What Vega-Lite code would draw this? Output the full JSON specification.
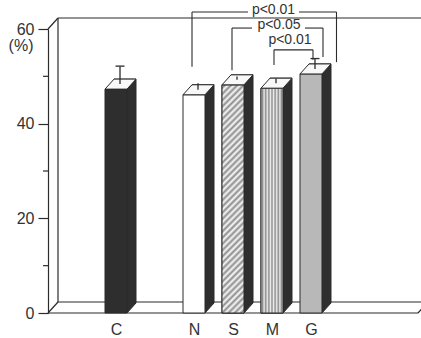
{
  "$schema": "https://vega.github.io/schema/vega-lite/v6.json",
  "width": 370,
  "height": 284,
  "autosize": {"type": "none"},
  "padding": {"left": 48, "top": 29, "right": 3, "bottom": 25},
  "background": "#ffffff",
  "config": {"view": {"stroke": null}, "font": "Liberation Sans"},
  "datasets": {
    "bars": [
      {"group": "C", "pct": 47.3, "upper": 51.1},
      {"group": "N", "pct": 46.1, "upper": 47.5},
      {"group": "S", "pct": 48.2, "upper": 48.9},
      {"group": "M", "pct": 47.5, "upper": 48.5},
      {"group": "G", "pct": 50.5, "upper": 52.7}
    ],
    "frame": [{"left": 0, "right": 1, "floor": 0, "top": 60}],
    "minor": [{"left": 0, "v": 10}, {"left": 0, "v": 30}, {"left": 0, "v": 50}],
    "brackets": [
      {"id": 1, "label": "p<0.01", "from": "N", "to": "G", "mid": "M", "y": 63.6, "yFrom": 52.0, "yTo": 53.0, "ty": 63.2},
      {"id": 2, "label": "p<0.05", "from": "S", "to": "G", "mid": "M", "y": 60.2, "yFrom": 51.3, "yTo": 54.1, "ty": 59.9},
      {"id": 3, "label": "p<0.01", "from": "M", "to": "G", "mid": "M", "y": 55.6, "yFrom": 52.4, "yTo": 53.5, "ty": 56.8}
    ]
  },
  "resolve": {"scale": {"x": "independent"}},
  "layer": [
    {
      "layer": [
        {"data": {"name": "frame"},
         "mark": {"type": "rule", "color": "#2b2b2b", "strokeWidth": 1.2},
         "encoding": {"x": {"field": "left", "type": "quantitative", "scale": {"domain": [0, 1], "nice": false, "zero": false}, "axis": null}, "x2": {"field": "right"},
                      "y": {"field": "floor", "type": "quantitative", "title": "(%)", "scale": {"domain": [0, 60], "nice": false},
                            "axis": {"orient": "left", "values": [0, 20, 40, 60],
                                     "tickSize": 10, "labelPadding": 4, "labelFontSize": 16, "labelColor": "#333333", "labelFont": "Liberation Sans",
                                     "tickColor": "#2b2b2b", "domainColor": "#2b2b2b", "tickWidth": 1.2, "domainWidth": 1.2, "grid": false,
                                     "title": "(%)", "titleAngle": 0, "titleX": -15, "titleY": 16, "titleAlign": "right", "titleBaseline": "middle",
                                     "titleFontSize": 16, "titleFontWeight": "normal", "titleColor": "#333333", "titleFont": "Liberation Sans"}}}},
        {"data": {"name": "minor"},
         "mark": {"type": "rule", "color": "#2b2b2b", "strokeWidth": 1.2, "x2Offset": -5},
         "encoding": {"x": {"field": "left", "type": "quantitative", "axis": null}, "x2": {"field": "left"}, "y": {"field": "v", "type": "quantitative", "title": "(%)"}}},
        {"data": {"name": "frame"},
         "mark": {"type": "rule", "color": "#2b2b2b", "strokeWidth": 1.2, "xOffset": 10, "x2Offset": 10, "yOffset": -11},
         "encoding": {"x": {"field": "left", "type": "quantitative", "axis": null}, "x2": {"field": "right"}, "y": {"field": "floor", "type": "quantitative", "title": "(%)"}}},
        {"data": {"name": "frame"},
         "mark": {"type": "rule", "color": "#2b2b2b", "strokeWidth": 1.2, "xOffset": 10, "x2Offset": 10, "yOffset": -11},
         "encoding": {"x": {"field": "left", "type": "quantitative", "axis": null}, "x2": {"field": "right"}, "y": {"field": "top", "type": "quantitative", "title": "(%)"}}},
        {"data": {"name": "frame"},
         "mark": {"type": "rule", "color": "#2b2b2b", "strokeWidth": 1.2, "xOffset": 10, "yOffset": -11, "y2Offset": -11},
         "encoding": {"x": {"field": "left", "type": "quantitative", "axis": null}, "y": {"field": "floor", "type": "quantitative", "title": "(%)"}, "y2": {"field": "top"}}},
        {"data": {"name": "frame"},
         "mark": {"type": "rule", "color": "#2b2b2b", "strokeWidth": 1.2, "x2Offset": 10, "y2Offset": -11},
         "encoding": {"x": {"field": "left", "type": "quantitative", "axis": null}, "x2": {"field": "left"}, "y": {"field": "floor", "type": "quantitative", "title": "(%)"}, "y2": {"field": "floor"}}},
        {"data": {"name": "frame"},
         "mark": {"type": "rule", "color": "#2b2b2b", "strokeWidth": 1.2, "x2Offset": 10, "y2Offset": -11},
         "encoding": {"x": {"field": "left", "type": "quantitative", "axis": null}, "x2": {"field": "left"}, "y": {"field": "top", "type": "quantitative", "title": "(%)"}, "y2": {"field": "top"}}},
        {"data": {"name": "frame"},
         "mark": {"type": "rule", "color": "#2b2b2b", "strokeWidth": 1.2, "x2Offset": 10, "y2Offset": -11},
         "encoding": {"x": {"field": "right", "type": "quantitative", "axis": null}, "x2": {"field": "right"}, "y": {"field": "floor", "type": "quantitative", "title": "(%)"}, "y2": {"field": "floor"}}}
      ]
    },
    {
      "encoding": {
        "x": {"field": "group", "type": "nominal",
              "scale": {"type": "point", "domain": ["g0", "C", "g1", "N", "S", "M", "G", "g2", "g3"], "padding": 0.744},
              "axis": {"values": ["C", "N", "S", "M", "G"], "title": null, "ticks": false, "domain": false, "labelPadding": 8, "labelFontSize": 16, "labelColor": "#333333", "labelFont": "Liberation Sans", "labelAngle": 0}}
      },
      "layer": [
        {"data": {"name": "bars"},
         "mark": {"type": "bar", "width": 22, "xOffset": 9, "yOffset": -10, "y2Offset": -10, "fill": "#2e2e2e", "stroke": "#2b2b2b", "strokeWidth": 1},
         "encoding": {"y": {"field": "pct", "type": "quantitative", "title": "(%)"}}},
        {"data": {"name": "bars"},
         "mark": {"type": "point", "shape": "M1.1,0L1.1,-1L2,-1Z", "size": 400, "filled": true, "fill": "#2e2e2e", "stroke": "#2e2e2e", "strokeWidth": 1, "opacity": 1},
         "encoding": {"y": {"datum": 0, "type": "quantitative", "title": "(%)"}}},
        {"data": {"name": "bars"},
         "mark": {"type": "bar", "width": 22, "stroke": "#2b2b2b", "strokeWidth": 1},
         "encoding": {
           "y": {"field": "pct", "type": "quantitative", "title": "(%)"},
           "fill": {"field": "group", "type": "nominal", "scale": {"domain": ["C", "N", "S", "M", "G"], "range": ["#2e2e2e", "#ffffff", "#cccccc", "#c8c8c8", "#b8b8b8"]}, "legend": null}
         }},
        {"data": {"name": "bars"},
         "transform": [{"filter": "datum.group === 'S'"}],
         "mark": {"type": "bar", "width": 22, "stroke": "#2b2b2b", "strokeWidth": 1,
                  "fill": {"gradient": "linear", "x1": 0, "y1": 0, "x2": 0.1048, "y2": 1.0864, "stops": [
                    {"offset": 0, "color": "#fafafa"}, {"offset": 0.0125, "color": "#8c8c8c"}, {"offset": 0.025, "color": "#fafafa"}, {"offset": 0.0375, "color": "#8c8c8c"},
                    {"offset": 0.05, "color": "#fafafa"}, {"offset": 0.0625, "color": "#8c8c8c"}, {"offset": 0.075, "color": "#fafafa"}, {"offset": 0.0875, "color": "#8c8c8c"},
                    {"offset": 0.1, "color": "#fafafa"}, {"offset": 0.1125, "color": "#8c8c8c"}, {"offset": 0.125, "color": "#fafafa"}, {"offset": 0.1375, "color": "#8c8c8c"},
                    {"offset": 0.15, "color": "#fafafa"}, {"offset": 0.1625, "color": "#8c8c8c"}, {"offset": 0.175, "color": "#fafafa"}, {"offset": 0.1875, "color": "#8c8c8c"},
                    {"offset": 0.2, "color": "#fafafa"}, {"offset": 0.2125, "color": "#8c8c8c"}, {"offset": 0.225, "color": "#fafafa"}, {"offset": 0.2375, "color": "#8c8c8c"},
                    {"offset": 0.25, "color": "#fafafa"}, {"offset": 0.2625, "color": "#8c8c8c"}, {"offset": 0.275, "color": "#fafafa"}, {"offset": 0.2875, "color": "#8c8c8c"},
                    {"offset": 0.3, "color": "#fafafa"}, {"offset": 0.3125, "color": "#8c8c8c"}, {"offset": 0.325, "color": "#fafafa"}, {"offset": 0.3375, "color": "#8c8c8c"},
                    {"offset": 0.35, "color": "#fafafa"}, {"offset": 0.3625, "color": "#8c8c8c"}, {"offset": 0.375, "color": "#fafafa"}, {"offset": 0.3875, "color": "#8c8c8c"},
                    {"offset": 0.4, "color": "#fafafa"}, {"offset": 0.4125, "color": "#8c8c8c"}, {"offset": 0.425, "color": "#fafafa"}, {"offset": 0.4375, "color": "#8c8c8c"},
                    {"offset": 0.45, "color": "#fafafa"}, {"offset": 0.4625, "color": "#8c8c8c"}, {"offset": 0.475, "color": "#fafafa"}, {"offset": 0.4875, "color": "#8c8c8c"},
                    {"offset": 0.5, "color": "#fafafa"}, {"offset": 0.5125, "color": "#8c8c8c"}, {"offset": 0.525, "color": "#fafafa"}, {"offset": 0.5375, "color": "#8c8c8c"},
                    {"offset": 0.55, "color": "#fafafa"}, {"offset": 0.5625, "color": "#8c8c8c"}, {"offset": 0.575, "color": "#fafafa"}, {"offset": 0.5875, "color": "#8c8c8c"},
                    {"offset": 0.6, "color": "#fafafa"}, {"offset": 0.6125, "color": "#8c8c8c"}, {"offset": 0.625, "color": "#fafafa"}, {"offset": 0.6375, "color": "#8c8c8c"},
                    {"offset": 0.65, "color": "#fafafa"}, {"offset": 0.6625, "color": "#8c8c8c"}, {"offset": 0.675, "color": "#fafafa"}, {"offset": 0.6875, "color": "#8c8c8c"},
                    {"offset": 0.7, "color": "#fafafa"}, {"offset": 0.7125, "color": "#8c8c8c"}, {"offset": 0.725, "color": "#fafafa"}, {"offset": 0.7375, "color": "#8c8c8c"},
                    {"offset": 0.75, "color": "#fafafa"}, {"offset": 0.7625, "color": "#8c8c8c"}, {"offset": 0.775, "color": "#fafafa"}, {"offset": 0.7875, "color": "#8c8c8c"},
                    {"offset": 0.8, "color": "#fafafa"}, {"offset": 0.8125, "color": "#8c8c8c"}, {"offset": 0.825, "color": "#fafafa"}, {"offset": 0.8375, "color": "#8c8c8c"},
                    {"offset": 0.85, "color": "#fafafa"}, {"offset": 0.8625, "color": "#8c8c8c"}, {"offset": 0.875, "color": "#fafafa"}, {"offset": 0.8875, "color": "#8c8c8c"},
                    {"offset": 0.9, "color": "#fafafa"}, {"offset": 0.9125, "color": "#8c8c8c"}, {"offset": 0.925, "color": "#fafafa"}, {"offset": 0.9375, "color": "#8c8c8c"},
                    {"offset": 0.95, "color": "#fafafa"}, {"offset": 0.9625, "color": "#8c8c8c"}, {"offset": 0.975, "color": "#fafafa"}, {"offset": 0.9875, "color": "#8c8c8c"},
                    {"offset": 1, "color": "#fafafa"}]}},
         "encoding": {"y": {"field": "pct", "type": "quantitative", "title": "(%)"}}},
        {"data": {"name": "bars"},
         "transform": [{"filter": "datum.group === 'M'"}],
         "mark": {"type": "bar", "width": 22, "stroke": "#2b2b2b", "strokeWidth": 1,
                  "fill": {"gradient": "linear", "x1": 0, "y1": 0, "x2": 1, "y2": 0, "stops": [
                    {"offset": 0, "color": "#eeeeee"}, {"offset": 0.0714, "color": "#8a8a8a"}, {"offset": 0.1429, "color": "#eeeeee"}, {"offset": 0.2143, "color": "#8a8a8a"},
                    {"offset": 0.2857, "color": "#eeeeee"}, {"offset": 0.3571, "color": "#8a8a8a"}, {"offset": 0.4286, "color": "#eeeeee"}, {"offset": 0.5, "color": "#8a8a8a"},
                    {"offset": 0.5714, "color": "#eeeeee"}, {"offset": 0.6429, "color": "#8a8a8a"}, {"offset": 0.7143, "color": "#eeeeee"}, {"offset": 0.7857, "color": "#8a8a8a"},
                    {"offset": 0.8571, "color": "#eeeeee"}, {"offset": 0.9286, "color": "#8a8a8a"}, {"offset": 1, "color": "#eeeeee"}]}},
         "encoding": {"y": {"field": "pct", "type": "quantitative", "title": "(%)"}}},
        {"data": {"name": "bars"},
         "mark": {"type": "point", "shape": "M-1.1,0L1.1,0L2,-1L-0.2,-1Z", "size": 400, "filled": true, "fill": "#f8f8f8", "stroke": "#2b2b2b", "strokeWidth": 1, "opacity": 1},
         "encoding": {"y": {"field": "pct", "type": "quantitative", "title": "(%)"}}},
        {"data": {"name": "bars"},
         "mark": {"type": "rule", "xOffset": 4, "yOffset": -5, "y2Offset": -5, "color": "#2b2b2b", "strokeWidth": 1.3},
         "encoding": {"y": {"field": "pct", "type": "quantitative", "title": "(%)"}, "y2": {"field": "upper"}}},
        {"data": {"name": "bars"},
         "transform": [{"filter": "datum.group === 'C' || datum.group === 'G'"}],
         "mark": {"type": "tick", "size": 9, "thickness": 1.3, "xOffset": 4, "yOffset": -5, "color": "#2b2b2b", "opacity": 1},
         "encoding": {"y": {"field": "upper", "type": "quantitative", "title": "(%)"}}},

        {"data": {"name": "brackets"}, "transform": [{"filter": "datum.id === 1"}],
         "mark": {"type": "rule", "color": "#2b2b2b", "strokeWidth": 1.1, "xOffset": -2, "x2Offset": -24},
         "encoding": {"x": {"field": "from", "type": "nominal"}, "x2": {"field": "mid"}, "y": {"field": "y", "type": "quantitative", "title": "(%)"}}},
        {"data": {"name": "brackets"}, "transform": [{"filter": "datum.id === 1"}],
         "mark": {"type": "rule", "color": "#2b2b2b", "strokeWidth": 1.1, "xOffset": -12, "x2Offset": 25.5},
         "encoding": {"x": {"field": "to", "type": "nominal"}, "x2": {"field": "to"}, "y": {"field": "y", "type": "quantitative", "title": "(%)"}}},
        {"data": {"name": "brackets"}, "transform": [{"filter": "datum.id === 1"}],
         "mark": {"type": "rule", "color": "#2b2b2b", "strokeWidth": 1.1, "xOffset": -2},
         "encoding": {"x": {"field": "from", "type": "nominal"}, "y": {"field": "y", "type": "quantitative", "title": "(%)"}, "y2": {"field": "yFrom"}}},
        {"data": {"name": "brackets"}, "transform": [{"filter": "datum.id === 1"}],
         "mark": {"type": "rule", "color": "#2b2b2b", "strokeWidth": 1.1, "xOffset": 25.5},
         "encoding": {"x": {"field": "to", "type": "nominal"}, "y": {"field": "y", "type": "quantitative", "title": "(%)"}, "y2": {"field": "yTo"}}},
        {"data": {"name": "brackets"}, "transform": [{"filter": "datum.id === 1"}],
         "mark": {"type": "text", "dx": 1.5, "baseline": "alphabetic", "align": "center", "fontSize": 14, "color": "#333333", "font": "Liberation Sans"},
         "encoding": {"x": {"field": "mid", "type": "nominal"}, "y": {"field": "ty", "type": "quantitative", "title": "(%)"}, "text": {"field": "label"}}},

        {"data": {"name": "brackets"}, "transform": [{"filter": "datum.id === 2"}],
         "mark": {"type": "rule", "color": "#2b2b2b", "strokeWidth": 1.1, "xOffset": -1, "x2Offset": 19},
         "encoding": {"x": {"field": "from", "type": "nominal"}, "x2": {"field": "from"}, "y": {"field": "y", "type": "quantitative", "title": "(%)"}}},
        {"data": {"name": "brackets"}, "transform": [{"filter": "datum.id === 2"}],
         "mark": {"type": "rule", "color": "#2b2b2b", "strokeWidth": 1.1, "xOffset": -6, "x2Offset": 12},
         "encoding": {"x": {"field": "to", "type": "nominal"}, "x2": {"field": "to"}, "y": {"field": "y", "type": "quantitative", "title": "(%)"}}},
        {"data": {"name": "brackets"}, "transform": [{"filter": "datum.id === 2"}],
         "mark": {"type": "rule", "color": "#2b2b2b", "strokeWidth": 1.1, "xOffset": -1},
         "encoding": {"x": {"field": "from", "type": "nominal"}, "y": {"field": "y", "type": "quantitative", "title": "(%)"}, "y2": {"field": "yFrom"}}},
        {"data": {"name": "brackets"}, "transform": [{"filter": "datum.id === 2"}],
         "mark": {"type": "rule", "color": "#2b2b2b", "strokeWidth": 1.1, "xOffset": 12},
         "encoding": {"x": {"field": "to", "type": "nominal"}, "y": {"field": "y", "type": "quantitative", "title": "(%)"}, "y2": {"field": "yTo"}}},
        {"data": {"name": "brackets"}, "transform": [{"filter": "datum.id === 2"}],
         "mark": {"type": "text", "dx": 7, "baseline": "alphabetic", "align": "center", "fontSize": 14, "color": "#333333", "font": "Liberation Sans"},
         "encoding": {"x": {"field": "mid", "type": "nominal"}, "y": {"field": "ty", "type": "quantitative", "title": "(%)"}, "text": {"field": "label"}}},

        {"data": {"name": "brackets"}, "transform": [{"filter": "datum.id === 3"}],
         "mark": {"type": "rule", "color": "#2b2b2b", "strokeWidth": 1.1, "xOffset": 2, "x2Offset": 2},
         "encoding": {"x": {"field": "from", "type": "nominal"}, "x2": {"field": "to"}, "y": {"field": "y", "type": "quantitative", "title": "(%)"}}},
        {"data": {"name": "brackets"}, "transform": [{"filter": "datum.id === 3"}],
         "mark": {"type": "rule", "color": "#2b2b2b", "strokeWidth": 1.1, "xOffset": 2},
         "encoding": {"x": {"field": "from", "type": "nominal"}, "y": {"field": "y", "type": "quantitative", "title": "(%)"}, "y2": {"field": "yFrom"}}},
        {"data": {"name": "brackets"}, "transform": [{"filter": "datum.id === 3"}],
         "mark": {"type": "rule", "color": "#2b2b2b", "strokeWidth": 1.1, "xOffset": 2},
         "encoding": {"x": {"field": "to", "type": "nominal"}, "y": {"field": "y", "type": "quantitative", "title": "(%)"}, "y2": {"field": "yTo"}}},
        {"data": {"name": "brackets"}, "transform": [{"filter": "datum.id === 3"}],
         "mark": {"type": "text", "dx": 18, "baseline": "alphabetic", "align": "center", "fontSize": 14, "color": "#333333", "font": "Liberation Sans"},
         "encoding": {"x": {"field": "mid", "type": "nominal"}, "y": {"field": "ty", "type": "quantitative", "title": "(%)"}, "text": {"field": "label"}}}
      ]
    }
  ]
}
